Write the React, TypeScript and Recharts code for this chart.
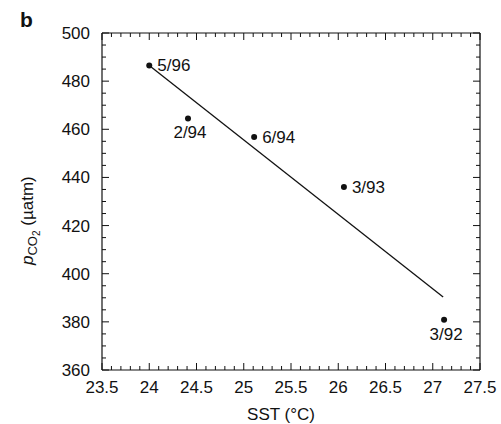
import React from 'react';
import { ScatterChart, Scatter, XAxis, YAxis } from 'recharts';

// Data
const dates = ['5/96', '2/94', '6/94', '3/93', '3/92'];
const sst = [24.0, 24.41, 25.11, 26.06, 27.12];
const pco2 = [486.5, 464.5, 456.8, 436.0, 380.9];

// Regression line end points
const fitSst = [24.0, 27.11];
const fitPco2 = [486.5, 390.3];

// Axis ticks
const xMajorTicks = [23.5, 24, 24.5, 25, 25.5, 26, 26.5, 27, 27.5];
const yMajorTicks = [360, 380, 400, 420, 440, 460, 480, 500];
const xMinorStep = 0.1;
const yMinorStep = 5;

// Label placement relative to each point
const labelSide: Record<string, 'right' | 'below'> = {
  '5/96': 'right',
  '2/94': 'below',
  '6/94': 'right',
  '3/93': 'right',
  '3/92': 'below',
};

const points = dates.map((d, i) => ({ date: d, x: sst[i], y: pco2[i] }));
const fitLine = fitSst.map((x, i) => ({ x, y: fitPco2[i] }));

const xAllTicks: number[] = [];
for (let i = 0; i <= Math.round((xMajorTicks[xMajorTicks.length - 1] - xMajorTicks[0]) / xMinorStep); i++) {
  xAllTicks.push(Math.round((xMajorTicks[0] + i * xMinorStep) * 10) / 10);
}
const yAllTicks: number[] = [];
for (let v = yMajorTicks[0]; v <= yMajorTicks[yMajorTicks.length - 1]; v += yMinorStep) yAllTicks.push(v);

const FONT = '"Liberation Sans", Arial, Helvetica, sans-serif';
const INK = '#111';
const MAJOR = 7;
const MINOR = 4;

const isXMajor = (v: number) => xMajorTicks.some((t) => Math.abs(t - v) < 1e-6);
const isYMajor = (v: number) => yMajorTicks.some((t) => Math.abs(t - v) < 1e-6);

const BottomTick = (props: any) => {
  const { x, y, payload } = props;
  const major = isXMajor(payload.value);
  return (
    <g>
      <line x1={x} y1={y} x2={x} y2={y - (major ? MAJOR : MINOR)} stroke={INK} strokeWidth={1} />
      {major && (
        <text x={x} y={y + 23} textAnchor="middle" fontSize={17} fontFamily={FONT} fill={INK}>
          {String(payload.value)}
        </text>
      )}
    </g>
  );
};

const TopTick = (props: any) => {
  const { x, y, payload } = props;
  const major = isXMajor(payload.value);
  return <line x1={x} y1={y} x2={x} y2={y + (major ? MAJOR : MINOR)} stroke={INK} strokeWidth={1} />;
};

const LeftTick = (props: any) => {
  const { x, y, payload } = props;
  const major = isYMajor(payload.value);
  return (
    <g>
      <line x1={x} y1={y} x2={x + (major ? MAJOR : MINOR)} y2={y} stroke={INK} strokeWidth={1} />
      {major && (
        <text x={x - 12} y={y + 6} textAnchor="end" fontSize={17} fontFamily={FONT} fill={INK}>
          {String(payload.value)}
        </text>
      )}
    </g>
  );
};

const RightTick = (props: any) => {
  const { x, y, payload } = props;
  const major = isYMajor(payload.value);
  return <line x1={x} y1={y} x2={x - (major ? MAJOR : MINOR)} y2={y} stroke={INK} strokeWidth={1} />;
};

const PointShape = (props: any) => {
  const { cx, cy, payload } = props;
  const side = labelSide[payload.date];
  return (
    <g>
      <circle cx={cx} cy={cy} r={3} fill={INK} />
      {side === 'right' ? (
        <text x={cx + 8} y={cy + 6} textAnchor="start" fontSize={17} fontFamily={FONT} fill={INK}>
          {payload.date}
        </text>
      ) : (
        <text x={cx + 2} y={cy + 20} textAnchor="middle" fontSize={17} fontFamily={FONT} fill={INK}>
          {payload.date}
        </text>
      )}
    </g>
  );
};

const NoShape = () => null;

const YTitle = () => (
  <g>
    <text x={20} y={27} fontSize={21} fontWeight="bold" fontFamily={FONT} fill={INK}>
      b
    </text>
    <text transform="translate(33,265) rotate(-90)" fontSize={17} fontFamily={FONT} fill={INK}>
      <tspan fontStyle="italic">p</tspan>
      <tspan fontSize={13} dy={4}>CO</tspan>
      <tspan fontSize={10} dy={3}>2</tspan>
      <tspan fontSize={17} dy={-7}>{' (\u00b5atm)'}</tspan>
    </text>
  </g>
);

const XTitle = () => (
  <text x={281} y={420} textAnchor="middle" fontSize={17} fontFamily={FONT} fill={INK}>
    SST (°C)
  </text>
);

export default function App() {
  return (
    <div style={{ position: 'absolute', left: 0, top: 0, width: 501, height: 424, background: '#fff' }}>
      <ScatterChart width={501} height={424} margin={{ top: 32, right: 20, bottom: 0, left: 0 }}>
        <XAxis
          xAxisId="b"
          type="number"
          dataKey="x"
          domain={[xMajorTicks[0], xMajorTicks[xMajorTicks.length - 1]]}
          ticks={xAllTicks}
          interval={0}
          height={54}
          tickSize={0}
          tickMargin={0}
          tickLine={false}
          tick={<BottomTick />}
          axisLine={{ stroke: INK, strokeWidth: 1.2 }}
          label={<XTitle />}
          allowDataOverflow
        />
        <XAxis
          xAxisId="t"
          orientation="top"
          type="number"
          dataKey="x"
          domain={[xMajorTicks[0], xMajorTicks[xMajorTicks.length - 1]]}
          ticks={xAllTicks}
          interval={0}
          height={1}
          tickSize={0}
          tickMargin={0}
          tickLine={false}
          tick={<TopTick />}
          axisLine={{ stroke: INK, strokeWidth: 1.2 }}
          allowDataOverflow
        />
        <YAxis
          yAxisId="l"
          type="number"
          dataKey="y"
          domain={[yMajorTicks[0], yMajorTicks[yMajorTicks.length - 1]]}
          ticks={yAllTicks}
          interval={0}
          width={102}
          tickSize={0}
          tickMargin={0}
          tickLine={false}
          tick={<LeftTick />}
          axisLine={{ stroke: INK, strokeWidth: 1.2 }}
          label={<YTitle />}
          allowDataOverflow
        />
        <YAxis
          yAxisId="r"
          orientation="right"
          type="number"
          dataKey="y"
          domain={[yMajorTicks[0], yMajorTicks[yMajorTicks.length - 1]]}
          ticks={yAllTicks}
          interval={0}
          width={1}
          tickSize={0}
          tickMargin={0}
          tickLine={false}
          tick={<RightTick />}
          axisLine={{ stroke: INK, strokeWidth: 1.2 }}
          allowDataOverflow
        />
        <Scatter
          xAxisId="t"
          yAxisId="r"
          data={points}
          shape={<NoShape />}
          isAnimationActive={false}
        />
        <Scatter
          xAxisId="b"
          yAxisId="l"
          data={fitLine}
          line={{ stroke: INK, strokeWidth: 1.3 }}
          shape={<NoShape />}
          isAnimationActive={false}
        />
        <Scatter
          xAxisId="b"
          yAxisId="l"
          data={points}
          shape={<PointShape />}
          isAnimationActive={false}
        />
      </ScatterChart>
    </div>
  );
}
